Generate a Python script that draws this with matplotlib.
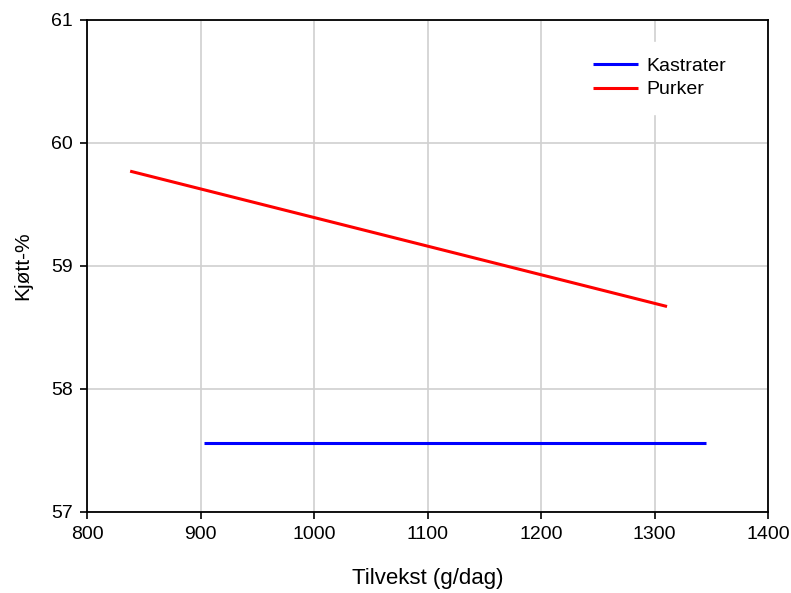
import matplotlib as mpl
mpl.use("Agg")
import matplotlib.pyplot as plt

# --- data --------------------------------------------------------------------
kastrater_x = [903, 1345]
kastrater_y = [57.56, 57.56]
purker_x = [838, 1311]
purker_y = [59.77, 58.67]

xticks = [800, 900, 1000, 1100, 1200, 1300, 1400]
yticks = [57, 58, 59, 60, 61]

plt.rcParams.update({
    "font.family": ["Liberation Sans", "DejaVu Sans"],
    "font.size": 14,
})

fig = plt.figure(figsize=(7.91, 5.93), dpi=100)
ax = fig.add_axes([0.110, 0.1366, 0.861, 0.830])

ax.plot(kastrater_x, kastrater_y, color="#0000ff", lw=2.2,
        solid_capstyle="butt", label="Kastrater")
ax.plot(purker_x, purker_y, color="#ff0000", lw=2.2,
        solid_capstyle="butt", label="Purker")

ax.set_xlim(800, 1400)
ax.set_ylim(57, 61)
ax.set_xticks(xticks)
ax.set_yticks(yticks)
ax.grid(True, color="#d0d0d0", lw=1.2)
ax.set_axisbelow(True)

for s in ax.spines.values():
    s.set_linewidth(1.3)
    s.set_color("black")
ax.tick_params(direction="out", length=5, width=1.2, labelsize=14,
               colors="black", pad=5)

ax.set_xlabel("Tilvekst (g/dag)", fontsize=16, labelpad=18)
ax.set_ylabel("Kjøtt-%", fontsize=15, labelpad=14)

leg = ax.legend(loc="center", bbox_to_anchor=(0.841, 0.882),
                frameon=True, fancybox=False, edgecolor="white",
                facecolor="white", framealpha=1.0, fontsize=14,
                handlelength=2.3, handletextpad=0.45, labelspacing=0.3,
                borderpad=0.8)

fig.savefig("out.png", dpi=100)
